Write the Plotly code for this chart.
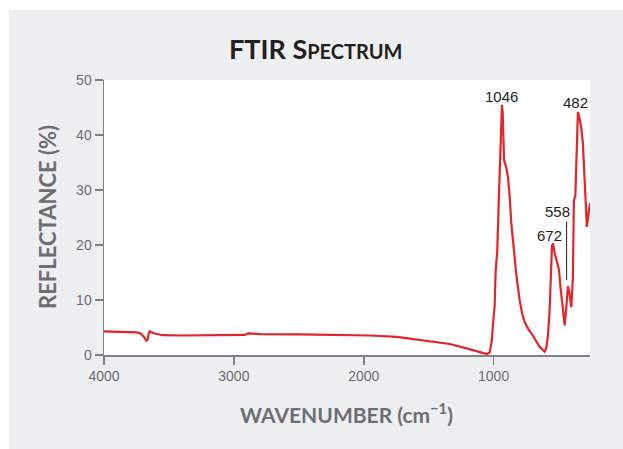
import plotly.graph_objects as go

wavenumber = [4000, 3900, 3800, 3748, 3717, 3690, 3672, 3662, 3655, 3648, 3625, 3594, 3548,
              3400, 3262, 3100, 2916, 2890, 2865, 2800, 2500, 2162, 1950, 1746, 1546, 1338,
              1208, 1108, 1050, 1030, 1015, 1005, 992, 985, 979, 972, 962, 955, 948, 940,
              936, 930, 924, 920, 912, 902, 890, 877, 864, 846, 825, 800, 780, 761, 735,
              710, 680, 646, 620, 608, 595, 582, 569, 561, 551, 543, 530, 513, 497, 484,
              467, 453, 440, 428, 415, 402, 390, 382, 371, 363, 351, 338, 325, 313, 300,
              292, 282, 269, 258]
reflectance = [4.3, 4.2, 4.15, 4.1, 3.9, 3.2, 2.5, 3.0, 4.0, 4.3, 4.0, 3.8, 3.6,
               3.55, 3.55, 3.6, 3.65, 3.95, 3.9, 3.8, 3.75, 3.7, 3.55, 3.3, 2.7, 2.0,
               1.2, 0.45, 0.15, 0.5, 2.5, 5.5, 9.0, 15.0, 17.9, 19.0, 27.0, 32.0, 40.0, 44.5,
               45.5, 44.0, 37.0, 35.5, 34.8, 34.0, 32.4, 29.0, 24.0, 19.0, 14.5, 10.0, 7.5, 6.0, 4.8,
               4.0, 2.8, 1.5, 0.9, 0.6, 1.2, 3.5, 8.0, 13.4, 19.8, 20.3, 18.5, 17.0, 15.5, 12.0,
               7.8, 5.4, 8.8, 12.5, 11.0, 8.7, 14.0, 28.2, 28.8, 37.0, 44.2, 43.0, 41.2, 38.5, 33.1,
               29.0, 23.3, 25.8, 27.6]

peak_labels = ["1046", "482", "558", "672"]
peak_label_x = [941, 371, 505, 569]
peak_label_y = [47.0, 45.9, 26.1, 21.8]
leader_x = [438, 438]
leader_y = [24.3, 13.6]

x_ticks = [4000, 3000, 2000, 1000]
y_ticks = [0, 10, 20, 30, 40, 50]

W, H = 623, 449
ML, MR, MT, MB = 104, 33, 80, 94
PW, PH = W - ML - MR, H - MT - MB


def px_x(p):
    """page pixel x -> paper coordinate"""
    return (p - ML) / PW


def px_y(p):
    """page pixel y -> paper coordinate"""
    return (H - MB - p) / PH


fig = go.Figure()
fig.add_trace(go.Scatter(x=wavenumber, y=reflectance, mode="lines",
                         line=dict(color="#e4232a", width=2.2), hoverinfo="skip",
                         showlegend=False))
fig.add_trace(go.Scatter(x=leader_x, y=leader_y, mode="lines",
                         line=dict(color="#231f20", width=1), hoverinfo="skip",
                         showlegend=False))

for t, x, y in zip(peak_labels, peak_label_x, peak_label_y):
    fig.add_annotation(x=x, y=y, text=t, showarrow=False, xanchor="center", yanchor="middle",
                       font=dict(family="Liberation Sans, Arial", size=15, color="#231f20"))

title_font = "Lato, Open Sans, sans-serif"
fig.add_annotation(xref="paper", yref="paper", x=px_x(316), y=px_y(49),
                   text="FTIR S<span style='font-size:20px'>PECTRUM</span>",
                   showarrow=False, xanchor="center", yanchor="middle",
                   font=dict(family=title_font, size=27, color="#231f20", weight="bold"))
fig.add_annotation(xref="paper", yref="paper", x=px_x(47), y=px_y(217),
                   text="REFLECTANCE (%)", textangle=-90, showarrow=False,
                   xanchor="center", yanchor="middle",
                   font=dict(family=title_font, size=22, color="#6d6e71", weight="bold"))
fig.add_annotation(xref="paper", yref="paper", x=px_x(346), y=px_y(413),
                   text="WAVENUMBER (cm<sup>−1</sup>)", showarrow=False,
                   xanchor="center", yanchor="middle",
                   font=dict(family=title_font, size=21, color="#6d6e71", weight="bold"))

# thin white page border outside the grey panel (top and left only)
fig.add_shape(type="rect", xref="paper", yref="paper", x0=px_x(-2), x1=px_x(9),
              y0=px_y(460), y1=px_y(-2), fillcolor="white", line=dict(width=0), layer="below")
fig.add_shape(type="rect", xref="paper", yref="paper", x0=px_x(-2), x1=px_x(630),
              y0=px_y(10), y1=px_y(-2), fillcolor="white", line=dict(width=0), layer="below")

axis_common = dict(showgrid=False, zeroline=False, showline=True, linecolor="#808285",
                   linewidth=1.5, ticks="outside", ticklen=8, tickwidth=1.5,
                   tickcolor="#808285",
                   tickfont=dict(family="Liberation Sans, Arial", size=14, color="#6d6e71"))
fig.update_xaxes(range=[4000, 258], tickvals=x_ticks, ticktext=[str(v) for v in x_ticks],
                 **axis_common)
fig.update_yaxes(range=[0, 50], tickvals=y_ticks, ticktext=[str(v) for v in y_ticks],
                 **axis_common)

fig.update_layout(width=W, height=H, margin=dict(l=ML, r=MR, t=MT, b=MB),
                  paper_bgcolor="#eeeff1", plot_bgcolor="white")
fig.write_html("out.html", config={"displayModeBar": False, "staticPlot": True},
               post_script="document.body.style.margin='0px';document.body.style.overflow='hidden';")
